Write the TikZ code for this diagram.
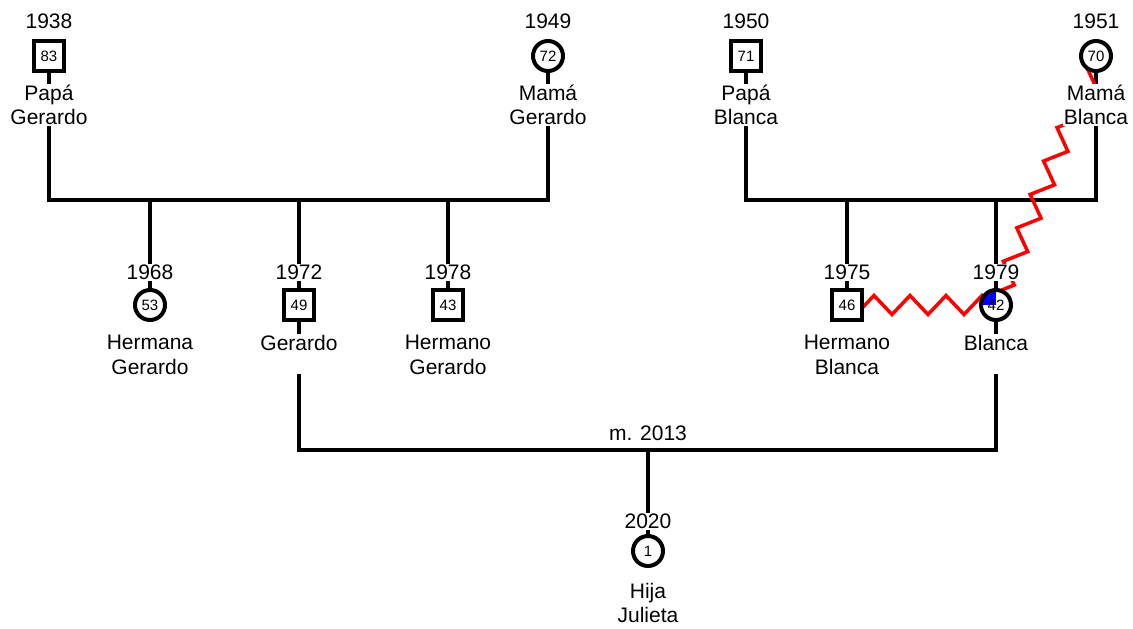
\documentclass[tikz,border=0pt]{standalone}
\usepackage{fontspec}
\setmainfont{Liberation Sans}
\usetikzlibrary{decorations.pathmorphing}
\pgfdeclarelayer{bg}
\pgfsetlayers{bg,main}
\begin{document}
\begin{tikzpicture}[x=1pt,y=-1pt,
  male/.style={draw, line width=4.5, fill=white, minimum size=30, inner sep=0, font=\fontsize{15}{15}\selectfont},
  female/.style={circle, draw, line width=4, fill=white, minimum size=30, inner sep=0, font=\fontsize{15}{15}\selectfont},
  num/.style={inner sep=0, font=\fontsize{15}{15}\selectfont},
  yr/.style={fill=white, inner sep=1, text height=15, text depth=0, font=\fontsize{21}{24.5}\selectfont},
  lbl/.style={fill=white, inner sep=1, align=center, font=\fontsize{21}{24.5}\selectfont},
  lblone/.style={fill=white, inner sep=1, text height=15.5, text depth=23, font=\fontsize{21}{24.5}\selectfont},
  link/.style={line width=4, black},
  conflict/.style={red, line width=3.5, decorate, decoration={zigzag, segment length=36, amplitude=-9.5}}]
\begin{pgfonlayer}{bg}
\useasboundingbox[fill=white] (0,0) rectangle (1133,629);
\end{pgfonlayer}

% generation 1
\node[male] (pg) at (49,56) {83};
\node[yr] (pg-y) at (49,21) {1938};
\node[lbl] (pg-l) at (49,105) {Papá\\Gerardo};
\node[female] (mg) at (548,56) {72};
\node[yr] (mg-y) at (548,21) {1949};
\node[lbl] (mg-l) at (548,105) {Mamá\\Gerardo};
\node[male] (pb) at (746,56) {71};
\node[yr] (pb-y) at (746,21) {1950};
\node[lbl] (pb-l) at (746,105) {Papá\\Blanca};
\node[female] (mb) at (1096,56) {70};
\node[yr] (mb-y) at (1096,21) {1951};
\node[lbl] (mb-l) at (1096,105) {Mamá\\Blanca};

% generation 2
\node[female] (hg) at (150,305) {53};
\node[yr] (hg-y) at (150,272) {1968};
\node[lbl] (hg-l) at (150,355) {Hermana\\Gerardo};
\node[male] (g) at (299,305) {49};
\node[yr] (g-y) at (299,272) {1972};
\node[lblone] (g-l) at (299,354) {Gerardo};
\node[male] (hog) at (448,305) {43};
\node[yr] (hog-y) at (448,272) {1978};
\node[lbl] (hog-l) at (448,355) {Hermano\\Gerardo};
\node[male] (hb) at (847,305) {46};
\node[yr] (hb-y) at (847,272) {1975};
\node[lbl] (hb-l) at (847,355) {Hermano\\Blanca};
\node[female, path picture={\fill[blue] (path picture bounding box.center) rectangle (path picture bounding box.north west);}] (b) at (996,305) {};
\node[num] (b-n) at (b.center) {42};
\node[yr] (b-y) at (996,272) {1979};
\node[lblone] (b-l) at (996,354) {Blanca};

% generation 3
\node[female] (j) at (648,551) {1};
\node[yr] (j-y) at (648,521) {2020};
\node[lbl] (j-l) at (648,603) {Hija\\Julieta};
\node[font=\fontsize{21}{24.5}\selectfont] (m) at (648,433) {m. 2013};

\coordinate (fG) at (298.5,200);
\coordinate (fB) at (921,200);
\coordinate (fM) at (648,450);

\begin{pgfonlayer}{bg}
  \draw[link] (pg.center) -- (pg |- fG) -- (mg |- fG) -- (mg.center);
  \draw[link] (hg |- fG) -- (hg.center);
  \draw[link] (g |- fG) -- (g.center);
  \draw[link] (hog |- fG) -- (hog.center);
  \draw[link] (pb.center) -- (pb |- fB) -- (mb |- fB) -- (mb.center);
  \draw[link] (hb |- fB) -- (hb.center);
  \draw[link] (b |- fB) -- (b.center);
  \draw[link] (g.center) -- (g |- fM) -- (b |- fM) -- (b.center);
  \draw[link] (fM) -- (j.center);
  \draw[conflict] (hb.center) -- (b.center);
  \draw[conflict] (mb.center) -- (b.center);
\end{pgfonlayer}
\end{tikzpicture}
\end{document}
